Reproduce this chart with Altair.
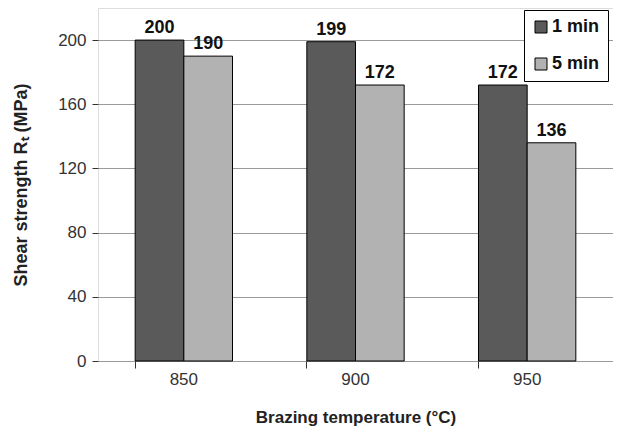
import altair as alt
import pandas as pd

temps = ["850", "900", "950"]
series = ["1 min", "5 min"]
one_min = [200, 199, 172]
five_min = [190, 172, 136]
colors = ["#5a5a5a", "#b2b2b2"]

rows = []
for t, a, b in zip(temps, one_min, five_min):
    rows.append({"temp": t, "series": series[0], "value": a})
    rows.append({"temp": t, "series": series[1], "value": b})
df = pd.DataFrame(rows)

FONT = "Liberation Sans"

xscale = alt.Scale(domain=temps, paddingInner=0.433, paddingOuter=0.2165)
yscale = alt.Scale(domain=[0, 220])

base = alt.Chart(df)

bars = base.mark_bar(stroke="black", strokeWidth=1).encode(
    x=alt.X("temp:N", scale=xscale, sort=temps,
            axis=alt.Axis(title="Brazing temperature (°C)", labelAngle=0, ticks=False,
                          domain=False, labelPadding=10, labelFontSize=17, labelColor="#333333",
                          labelFont=FONT, titleFont=FONT, titleFontSize=17, titleFontWeight="bold",
                          titleColor="#222222", titlePadding=22, orient="bottom")),
    xOffset=alt.XOffset("series:N", sort=series),
    y=alt.Y("value:Q", scale=yscale,
            axis=alt.Axis(title="Shear strength Rₜ (MPa)", values=[0, 40, 80, 120, 160, 200],
                          tickSize=6, tickColor="#333333", labelPadding=6, labelFontSize=17,
                          labelColor="#333333", labelFont=FONT, titleFont=FONT, titleFontSize=18,
                          titleFontWeight="bold", titleColor="#222222", titlePadding=27,
                          gridColor="#9a9a9a", gridWidth=1, domain=False)),
    color=alt.Color("series:N", sort=series, scale=alt.Scale(domain=series, range=colors),
                    legend=alt.Legend(title=None, orient="none", legendX=426, legendY=2,
                                      symbolType="square", symbolSize=144, symbolStrokeColor="black",
                                      symbolStrokeWidth=1, labelFont=FONT, labelFontSize=18,
                                      labelFontWeight="bold", labelColor="#111111", rowPadding=19,
                                      padding=8, strokeColor="black", fillColor="white",
                                      labelOffset=2)),
)

labels = base.mark_text(baseline="bottom", dy=-3, font=FONT, fontSize=18, fontWeight="bold",
                        color="#111111").encode(
    x=alt.X("temp:N", scale=xscale, sort=temps,
            axis=alt.Axis(title=None, labels=False, ticks=True, tickSize=7, tickColor="#333333",
                          bandPosition=0, domain=False, grid=False, orient="bottom")),
    xOffset=alt.XOffset("series:N", sort=series),
    y=alt.Y("value:Q", scale=yscale),
    text=alt.Text("value:Q"),
)

chart = alt.layer(bars, labels).resolve_axis(x="independent").properties(
    width=515, height=353,
    autosize=alt.AutoSizeParams(type="none"),
    padding={"left": 90, "top": 0, "right": 0, "bottom": 66},
).configure_view(stroke="black", strokeWidth=1.5).configure(background="white")

chart.save("out.html", embed_options={"renderer": "svg", "actions": False})
